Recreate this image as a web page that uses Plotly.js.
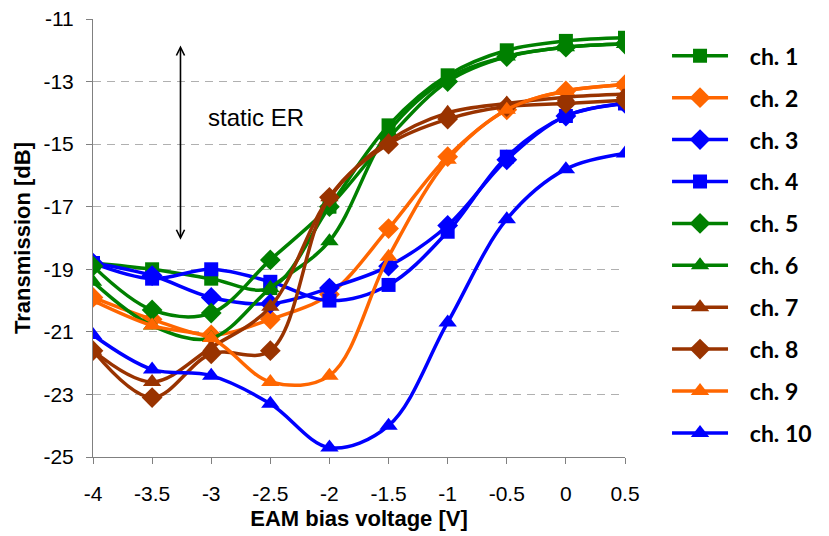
<!DOCTYPE html>
<html>
<head>
<meta charset="utf-8">
<script src="https://cdn.plot.ly/plotly-3.0.1.min.js"></script>
<style>html,body{margin:0;padding:0;background:#fff;}#chart{width:829px;height:536px;}</style>
</head>
<body>
<div id="chart"></div>
<script>
const voltage = [-4, -3.5, -3, -2.5, -2, -1.5, -1, -0.5, 0, 0.5];
const channelNames = ["ch. 1","ch. 2","ch. 3","ch. 4","ch. 5","ch. 6","ch. 7","ch. 8","ch. 9","ch. 10"];
const ch1  = [-18.8, -19.0, -19.3, -19.6, -17.0, -14.4, -12.8, -12.0, -11.7, -11.6];
const ch2  = [-19.9, -20.6, -21.1, -20.6, -19.8, -17.7, -15.4, -13.9, -13.3, -13.1];
const ch3  = [-18.8, -19.2, -19.9, -20.1, -19.6, -18.9, -17.6, -15.5, -14.1, -13.7];
const ch4  = [-18.8, -19.3, -19.0, -19.4, -20.0, -19.5, -17.8, -15.4, -14.1, -13.7];
const ch5  = [-18.9, -20.3, -20.4, -18.7, -17.0, -14.8, -13.0, -12.2, -11.9, -11.8];
const ch6  = [-19.4, -20.8, -21.2, -19.6, -18.1, -14.6, -12.9, -12.2, -11.9, -11.8];
const ch7  = [-21.6, -22.6, -21.5, -20.2, -16.7, -14.9, -14.0, -13.7, -13.5, -13.4];
const ch8  = [-21.6, -23.1, -21.7, -21.6, -16.7, -15.0, -14.2, -13.8, -13.7, -13.6];
const ch9  = [-20.0, -20.8, -21.2, -22.6, -22.4, -18.6, -15.5, -13.9, -13.3, -13.1];
const ch10 = [-21.1, -22.2, -22.4, -23.3, -24.7, -24.0, -20.7, -17.4, -15.8, -15.3];
const yTicks = [-25, -23, -21, -19, -17, -15, -13, -11];
const xTicks = [-4, -3.5, -3, -2.5, -2, -1.5, -1, -0.5, 0, 0.5];

const series = [ch1, ch2, ch3, ch4, ch5, ch6, ch7, ch8, ch9, ch10];
const GREEN = '#008000', ORANGE = '#FF6600', BLUE = '#0000FF', BROWN = '#993300';
const colors = [GREEN, ORANGE, BLUE, BLUE, GREEN, GREEN, BROWN, BROWN, ORANGE, BLUE];
const symbols = ['square','diamond','diamond','square','diamond','triangle-up','triangle-up','diamond','triangle-up','triangle-up'];
const sizes = {'square':14, 'diamond':16, 'triangle-up':16};
const pad = '\u00a0\u00a0\u00a0';
const ypad = '\u00a0'.repeat(9);

const traces = series.map((ys, i) => ({
  x: voltage, y: ys, name: pad + channelNames[i], type: 'scatter', mode: 'lines+markers',
  legendgroup: 'g' + i,
  line: {color: colors[i], width: 3.5, shape: 'spline', smoothing: 1},
  marker: {color: colors[i], symbol: symbols[i], size: sizes[symbols[i]]}
}));

const layout = {
  width: 829, height: 536,
  margin: {l: 93, r: 202, t: 19, b: 79},
  paper_bgcolor: '#fff', plot_bgcolor: '#fff',
  font: {family: 'Liberation Sans, Arial, sans-serif', color: '#000'},
  showlegend: true,
  legend: {x: 1.079, y: 0.965, xanchor: 'left', yanchor: 'top',
    font: {family: 'Lato, Liberation Sans, sans-serif', size: 23, color: '#000', weight: 'bold'},
    tracegroupgap: 9, itemwidth: 56, bgcolor: 'rgba(0,0,0,0)'},
  xaxis: {range: [-4, 0.5], tickvals: xTicks, ticktext: xTicks.map(String),
    showgrid: false, zeroline: false, showline: true, linecolor: '#808080', linewidth: 1,
    ticks: 'outside', ticklen: 6, tickcolor: '#808080', tickfont: {size: 21},
    ticklabelstandoff: 12,
    title: {text: '<b>EAM bias voltage [V]</b>', font: {size: 22}, standoff: 6}},
  yaxis: {range: [-25, -11], tickvals: yTicks, ticktext: yTicks.map(String),
    showgrid: true, gridcolor: '#b0b0b0', griddash: '8px,6px', gridwidth: 1,
    zeroline: false, showline: true, linecolor: '#808080', linewidth: 1,
    ticks: 'outside', ticklen: 6, tickcolor: '#808080', tickfont: {size: 21},
    ticklabelstandoff: 8,
    title: {text: ypad + '<b>Transmission [dB]</b>', font: {size: 22}, standoff: 6}},
  annotations: [
    {x: -3.26, y: -11.85, ax: -3.26, ay: -18.1, xref: 'x', yref: 'y', axref: 'x', ayref: 'y',
     text: '', showarrow: true, arrowhead: 5, startarrowhead: 5, arrowside: 'end+start',
     arrowwidth: 1.6, arrowsize: 1, startarrowsize: 1, arrowcolor: '#000'},
    {x: -2.62, y: -14.15, xref: 'x', yref: 'y', text: 'static ER', showarrow: false,
     font: {size: 24, color: '#000'}}
  ]
};
Plotly.newPlot('chart', traces, layout, {displayModeBar: false, staticPlot: true});
</script>
</body>
</html>
